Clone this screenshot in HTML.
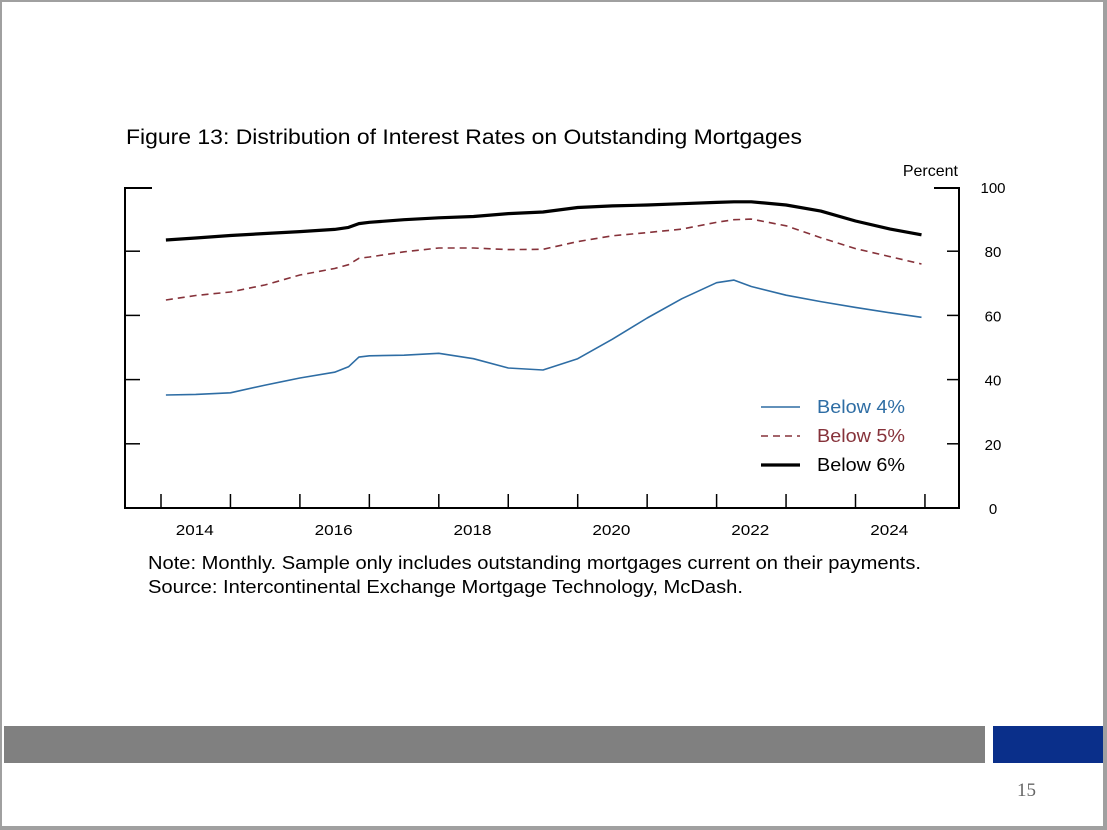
<!DOCTYPE html>
<html><head><meta charset="utf-8"><style>
html,body{margin:0;padding:0;background:#fff}
#slide{position:relative;width:1107px;height:830px;overflow:hidden;font-family:"Liberation Sans",sans-serif;box-sizing:border-box;border-left:2px solid #a0a0a0;border-top:2px solid #a0a0a0;border-right:4px solid #a0a0a0;border-bottom:4px solid #a0a0a0}
.t{position:absolute;white-space:nowrap}
</style></head><body>
<div id="slide">
<svg id="chart" width="1107" height="830" style="position:absolute;left:-2px;top:-2px"></svg>
<div style="position:absolute;left:2px;top:724px;width:981px;height:37px;background:#808080"></div>
<div style="position:absolute;left:991px;top:724px;width:110px;height:37px;background:#0a2f8a"></div>
<div class="t" style="left:1015px;top:778px;font-family:'Liberation Serif',serif;font-size:19px;color:#666">15</div>
</div>
<script>
const dates=[2014.07,2014.5,2015,2015.5,2016,2016.5,2016.7,2016.85,2017,2017.5,2018,2018.5,2019,2019.5,2020,2020.5,2021,2021.5,2022,2022.25,2022.5,2023,2023.5,2024,2024.5,2024.95];
const below6=[83.5,84.1,84.9,85.5,86.1,86.8,87.4,88.6,89.0,89.8,90.4,90.8,91.7,92.2,93.6,94.1,94.4,94.8,95.2,95.4,95.4,94.4,92.5,89.4,86.9,85.1];
const below5=[64.8,66.2,67.3,69.5,72.6,74.6,75.8,77.8,78.2,79.8,81.0,81.0,80.5,80.6,83.0,84.8,85.8,86.9,89.0,89.8,90.0,87.9,84.2,80.8,78.3,76.0];
const below4=[35.2,35.4,35.9,38.3,40.5,42.3,44.0,47.0,47.4,47.6,48.2,46.5,43.6,43.0,46.5,52.6,59.2,65.2,70.2,71.0,69.0,66.3,64.3,62.5,60.8,59.4];
const yTicks=[0,20,40,60,80,100];
const xLabels=[2014,2016,2018,2020,2022,2024];
const xTickYears=[2014,2015,2016,2017,2018,2019,2020,2021,2022,2023,2024,2025];

const svg=document.getElementById('chart');
const NS='http://www.w3.org/2000/svg';
const L=125,R=959,T=187,B=508;
const xs=t=>161+69.45*(t-2014);
const ys=v=>B-(v/100)*(B-T);
function mk(tag,attrs){const e=document.createElementNS(NS,tag);for(const k in attrs)e.setAttribute(k,attrs[k]);svg.appendChild(e);return e;}
function txt(str,x,y,size,len,fill,anchor){
  const a={x:x,y:y,'font-size':size,'font-family':'Liberation Sans, sans-serif',fill:fill||'#000'};
  if(anchor)a['text-anchor']=anchor;
  if(len){a.textLength=len;a.lengthAdjust='spacingAndGlyphs';}
  const t=mk('text',a);t.textContent=str;return t;
}
let tt=txt('Figure 13: Distribution of Interest Rates on Outstanding Mortgages',126,144,21,676);


let n1=txt('Note: Monthly. Sample only includes outstanding mortgages current on their payments.',148,569,18,773);


let n2=txt('Source: Intercontinental Exchange Mortgage Technology, McDash.',148,593,18,595);


let f=mk('path',{d:`M${L+27},${T+1}H${L}V${B}H${R}V${T+1}H${R-25}`,fill:'none',stroke:'#000','stroke-width':2});


yTicks.forEach(v=>{
  const y=ys(v);
  if(v>0&&v<100){
    let a=mk('line',{x1:L,x2:L+15,y1:y,y2:y,stroke:'#000','stroke-width':1.5});
    
    
    let b=mk('line',{x1:R-12,x2:R,y1:y,y2:y,stroke:'#000','stroke-width':1.5});
    
    
  }
  let t=txt(String(v),R+34,y+6,15,null,'#000','middle');
  
  
});
xTickYears.forEach(yr=>{
  let a=mk('line',{x1:xs(yr),x2:xs(yr),y1:B,y2:B-14,stroke:'#000','stroke-width':1.5});
  
  
});
xLabels.forEach(yr=>{
  let t=txt(String(yr),xs(yr+0.5)-1,B+27,15,38,'#000','middle');
  
  
});
let pt=txt('Percent',958,176,16,null,'#000','end');


function line(vals,color,w,dash,name){
  const d=vals.map((v,i)=>(i?'L':'M')+xs(dates[i]).toFixed(1)+','+ys(v).toFixed(1)).join('');
  const p=mk('path',{d,fill:'none',stroke:color,'stroke-width':w,'stroke-linejoin':'round'});
  if(dash)p.setAttribute('stroke-dasharray',dash);
  
  
}
line(below4,'#2e6da4',1.6,null,'line-below-4');
line(below5,'#86323a',1.6,'7,5','line-below-5');
line(below6,'#000',3.2,null,'line-below-6');
const leg=[['Below 4%','#2e6da4',1.6,null,407],['Below 5%','#86323a',1.6,'7,5',436],['Below 6%','#000',3.2,null,465]];
leg.forEach(l=>{
  let a=mk('line',{x1:761,x2:800,y1:l[4],y2:l[4],stroke:l[1],'stroke-width':l[2]});
  if(l[3])a.setAttribute('stroke-dasharray',l[3]);
  
  
  let t=txt(l[0],817,l[4]+6,18,88,l[1]);
  
  
});
</script>
</body></html>
